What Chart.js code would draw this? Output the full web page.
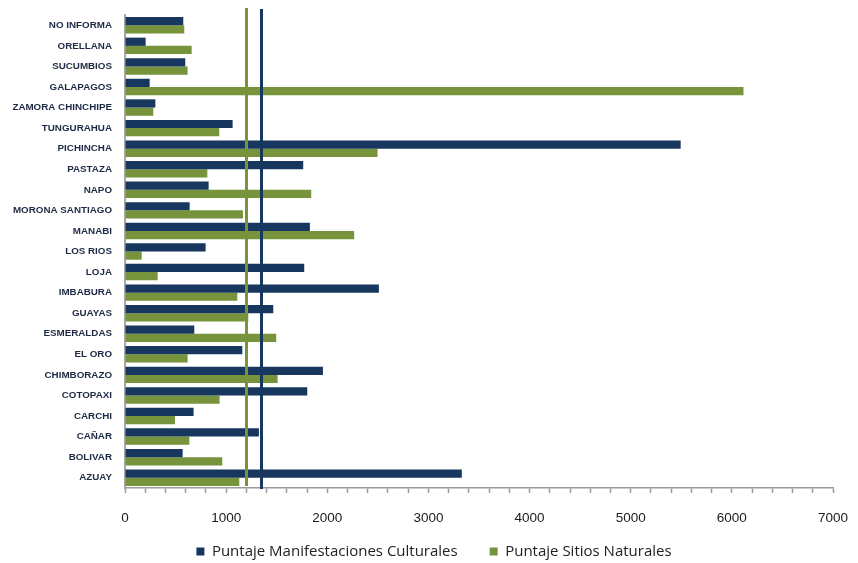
<!DOCTYPE html>
<html>
<head>
<meta charset="utf-8">
<script src="https://cdn.jsdelivr.net/npm/chart.js@4.4.1/dist/chart.umd.min.js"></script>
<style>
  html, body { margin: 0; padding: 0; background: #fff; }
  #wrap { width: 858px; height: 563px; position: relative; }
</style>
</head>
<body>
<div id="wrap"><canvas id="grafico"></canvas></div>
<script>
// provincias (de arriba hacia abajo)
const provincias = [
  "NO INFORMA", "ORELLANA", "SUCUMBIOS", "GALAPAGOS", "ZAMORA CHINCHIPE",
  "TUNGURAHUA", "PICHINCHA", "PASTAZA", "NAPO", "MORONA SANTIAGO",
  "MANABI", "LOS RIOS", "LOJA", "IMBABURA", "GUAYAS", "ESMERALDAS",
  "EL ORO", "CHIMBORAZO", "COTOPAXI", "CARCHI", "CAÑAR", "BOLIVAR", "AZUAY"
];

const puntajeCulturales = [
  576, 204, 596, 244, 300,
  1064, 5494, 1762, 827, 639,
  1828, 797, 1772, 2510, 1466, 685,
  1160, 1957, 1802, 678, 1324, 570, 3330
];

const puntajeNaturales = [
  586, 659, 619, 6115, 280,
  932, 2497, 814, 1841, 1166,
  2266, 165, 323, 1110, 1219, 1495,
  619, 1509, 935, 494, 636, 962, 1130
];

// lineas verticales de referencia
const promedioCulturales = 1349;
const promedioNaturales = 1194;

const xMin = 0;
const xMax = 7000;
const xPaso = 200;

const azul = "#17375E";
const verde = "#77933C";

const lineasPromedio = {
  id: "lineasPromedio",
  afterDatasetsDraw(chart) {
    const { ctx, chartArea, scales } = chart;
    const x = scales.x;
    const dibujar = (valor, color, arriba, abajo) => {
      const px = Math.round(x.getPixelForValue(valor)) + 0.5;
      ctx.save();
      ctx.strokeStyle = color;
      ctx.lineWidth = 3;
      ctx.beginPath();
      ctx.moveTo(px, chartArea.top - arriba);
      ctx.lineTo(px, chartArea.bottom + abajo);
      ctx.stroke();
      ctx.restore();
    };
    dibujar(promedioNaturales, verde, 7, -2);
    dibujar(promedioCulturales, azul, 6, 1);
  }
};

new Chart(document.getElementById("grafico"), {
  type: "bar",
  data: {
    labels: provincias,
    datasets: [{
      label: "Puntaje Manifestaciones Culturales",
      data: puntajeCulturales,
      backgroundColor: azul,
      borderWidth: 0,
      categoryPercentage: 0.8,
      barPercentage: 1
    }, {
      label: "Puntaje Sitios Naturales",
      data: puntajeNaturales,
      backgroundColor: verde,
      borderWidth: 0,
      categoryPercentage: 0.8,
      barPercentage: 1
    }]
  },
  options: {
    indexAxis: "y",
    responsive: true,
    maintainAspectRatio: false,
    animation: false,
    layout: { padding: { left: 10, right: 0, top: 15, bottom: -6 } },
    scales: {
      x: {
        min: xMin,
        max: xMax,
        grid: {
          display: true,
          drawOnChartArea: false,
          drawTicks: true,
          tickLength: 5,
          tickColor: "#9a9a9a",
          tickWidth: 1.5
        },
        border: { display: true, color: "#9a9a9a", width: 1.5 },
        ticks: {
          stepSize: xPaso,
          autoSkip: false,
          maxRotation: 0,
          padding: 17,
          color: "#1a1a1a",
          font: { family: "'Liberation Sans', Arial, sans-serif", size: 13.5 },
          callback: (val) => (val % 1000 === 0 ? val : "")
        },
        afterFit: (scale) => {
          scale.height = 54;
          scale.paddingLeft = 0;
          scale.paddingRight = 25;
        }
      },
      y: {
        grid: { display: false },
        border: { display: true, color: "#a8a8a8", width: 2 },
        ticks: {
          padding: 5,
          color: "#1e2a44",
          font: { family: "'Liberation Sans', Arial, sans-serif", size: 9.8, weight: "bold" }
        },
        afterFit: (scale) => { scale.width = 115; }
      }
    },
    plugins: {
      legend: {
        position: "bottom",
        labels: {
          boxWidth: 8,
          boxHeight: 8,
          padding: 2,
          color: "#222",
          font: { family: "'Open Sans', 'Liberation Sans', sans-serif", size: 15 },
          generateLabels: (chart) => {
            const items = Chart.defaults.plugins.legend.labels.generateLabels(chart);
            // separacion entre las dos entradas de la leyenda
            items[0].text = items[0].text + "\u2003\u2003";
            return items;
          }
        }
      },
      tooltip: { enabled: false }
    }
  },
  plugins: [lineasPromedio]
});
</script>
</body>
</html>
